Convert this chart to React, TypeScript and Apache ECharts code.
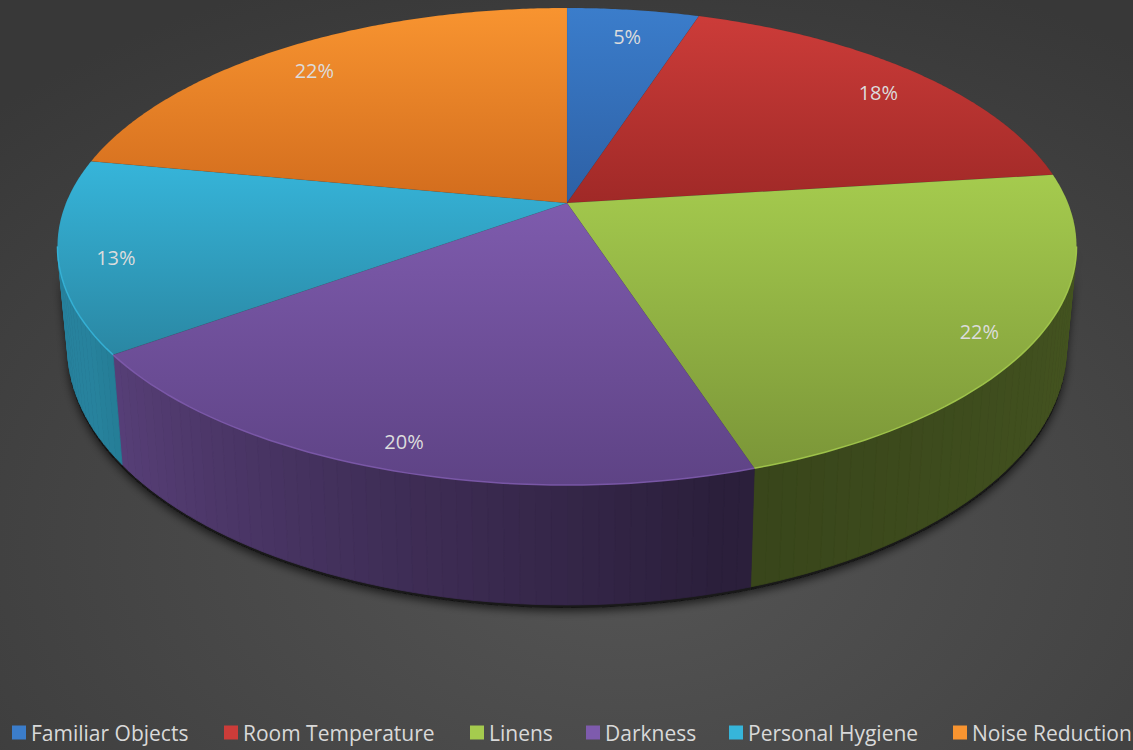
import React, { useEffect, useRef } from "react";
import * as echarts from "echarts";

const categories = ["Familiar Objects", "Room Temperature", "Linens", "Darkness", "Personal Hygiene", "Noise Reduction"];
const values = [5, 18, 22, 20, 13, 22];
const topLight = ["#3b7dcb", "#cc3c39", "#a5cb4e", "#7e5bad", "#36b5da", "#f89430"];
const topDark = ["#2d60a5", "#a02927", "#7b9638", "#5e4385", "#2a87a3", "#d26c1d"];
const legendIconX = [12, 224, 470, 586, 729, 953];

// projection parameters (layout only)
const CX = 567, CY = 203, AX = 501, BY = 230.6, K = 0.1824, T = 98, S = 0.98;
const DEG = Math.PI / 180;
const SIL0 = Math.acos(-K);
const SIL1 = 2 * Math.PI - SIL0;
const FONT = "'Open Sans', sans-serif";

function topPt(phi: number, r = 1): number[] {
  const X = r * Math.sin(phi), Z = r * Math.cos(phi);
  const w = 1 + K * Z;
  return [CX + (AX * X) / w, CY - (BY * Z) / w];
}
function botPt(phi: number): number[] {
  const p = topPt(phi);
  const w = 1 + K * Math.cos(phi);
  return [CX + (p[0] - CX) * S, p[1] + T / w];
}
function hexToRgb(h: string) {
  const n = parseInt(h.slice(1), 16);
  return [(n >> 16) & 255, (n >> 8) & 255, n & 255];
}
function shade(h: string, b: number) {
  const [r, g, bl] = hexToRgb(h);
  const f = (v: number) => Math.max(0, Math.min(255, Math.round(v * b)));
  return `rgb(${f(r)},${f(g)},${f(bl)})`;
}
function wallBright(phi: number) {
  const d = phi / DEG;
  if (d >= 165) return 0.34 + 0.38 * Math.min(1, (d - 165) / 75);
  return 0.34 + 0.08 * (165 - d) / 65;
}

const total = values.reduce((a, b) => a + b, 0);
const starts: number[] = [];
values.reduce((acc, v, i) => { starts[i] = acc; return acc + v; }, 0);

function renderSlice(params: any, api: any) {
  const v = api.value(0), start = api.value(1), idx = api.value(2);
  const a0 = (start / total) * 2 * Math.PI;
  const a1 = ((start + v) / total) * 2 * Math.PI;
  const children: any[] = [];
  const wa = Math.max(a0, SIL0), wb = Math.min(a1, SIL1);
  if (wb > wa) {
    const n = Math.max(1, Math.ceil((wb - wa) / (1.5 * DEG)));
    const topArc: number[][] = [], botArc: number[][] = [];
    for (let j = 0; j <= n; j++) {
      const p = wa + ((wb - wa) * j) / n;
      topArc.push(topPt(p));
      botArc.push(botPt(p));
    }
    children.push({
      type: "polygon",
      z2: 0,
      shape: { points: [...botArc.map((p) => [p[0], p[1] + 3]), ...topArc.slice().reverse()] },
      style: { fill: "rgba(20,20,20,0.9)", shadowBlur: 10, shadowColor: "rgba(0,0,0,0.75)", shadowOffsetY: 3 },
    });
    for (let j = 0; j < n; j++) {
      const pm = wa + ((wb - wa) * (j + 0.5)) / n;
      const c = shade(topLight[idx], wallBright(pm));
      children.push({
        type: "polygon",
        z2: 1,
        shape: { points: [topArc[j], topArc[j + 1], botArc[j + 1], botArc[j]] },
        style: { fill: c, stroke: c, lineWidth: 0.8 },
      });
    }
    children.push({
      type: "polyline",
      z2: 12,
      shape: { points: topArc },
      style: { stroke: topLight[idx], lineWidth: 1.5, fill: "none", opacity: 0.9 },
    });
  }
  const pts: number[][] = [[CX, CY]];
  const m = Math.max(2, Math.ceil((a1 - a0) / (0.5 * DEG)));
  for (let j = 0; j <= m; j++) pts.push(topPt(a0 + ((a1 - a0) * j) / m));
  children.push({
    type: "polygon",
    z2: 10,
    shape: { points: pts },
    style: {
      fill: new echarts.graphic.LinearGradient(0, 0, 0, 1, [
        { offset: 0, color: topLight[idx] },
        { offset: 1, color: topDark[idx] },
      ]),
      stroke: "rgba(0,0,0,0.08)",
      lineWidth: 0.5,
    },
  });
  const mid = (a0 + a1) / 2;
  const lp = topPt(mid, 0.89);
  children.push({
    type: "text",
    z2: 20,
    x: lp[0],
    y: lp[1] + 8,
    style: {
      text: Math.round((v / total) * 100) + "%",
      fill: "#dcdcdc",
      font: "20px " + FONT,
      align: "center",
      verticalAlign: "middle",
    },
  });
  return { type: "group", children };
}

export default function App() {
  const ref = useRef<HTMLDivElement>(null);
  useEffect(() => {
    if (!ref.current) return;
    const chart = echarts.init(ref.current, null, { renderer: "svg" });
    chart.setOption({
      animation: false,
      backgroundColor: new echarts.graphic.RadialGradient(0.55, 0.72, 0.8, [
        { offset: 0, color: "#555555" },
        { offset: 1, color: "#383838" },
      ]),
      legend: categories.map((c, i) => ({
        data: [c],
        left: legendIconX[i],
        top: 722,
        padding: 0,
        itemWidth: 14,
        itemHeight: 14,
        itemGap: 0,
        icon: "rect",
        selectedMode: false,
        textStyle: { color: "#d9d9d9", fontSize: 21, fontFamily: FONT },
      })),
      series: categories.map((c, i) => ({
        type: "custom",
        name: c,
        coordinateSystem: "none",
        itemStyle: { color: topLight[i] },
        data: [[values[i], starts[i], i]],
        renderItem: renderSlice,
      })),
    });
    return () => chart.dispose();
  }, []);
  return (
    <div
      ref={ref}
      style={{ position: "absolute", left: 0, top: 0, width: 1133, height: 750 }}
    />
  );
}
